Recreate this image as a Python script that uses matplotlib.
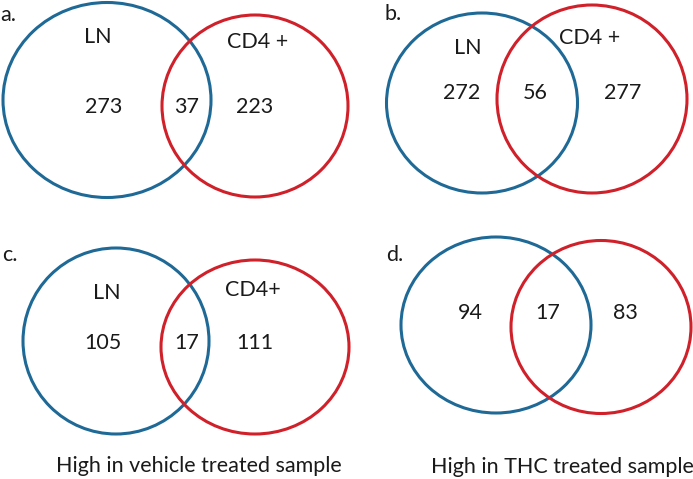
import matplotlib
matplotlib.use("Agg")
import matplotlib.pyplot as plt
from matplotlib.patches import Ellipse

plt.rcParams['font.family'] = ['Lato', 'DejaVu Sans']

# counts per panel: left only, overlap, right only
panel_tags = ["a.", "b.", "c.", "d."]
left_only = [273, 272, 105, 94]
overlap = [37, 56, 17, 17]
right_only = [223, 277, 111, 83]
left_names = ["LN", "LN", "LN", ""]
right_names = ["CD4 +", "CD4 +", "CD4+", ""]
captions = ["High in vehicle treated sample", "High in THC treated sample"]

blue = "#1f6996"
red = "#d0202a"

# layout of each panel in pixel coords (x, y from top)
# blue ellipse (cx, cy, w, h), red ellipse (cx, cy, w, h)
blue_ell = [(107, 100, 208, 195), (482, 103, 191, 180),
            (116, 341, 186, 186), (496, 325, 190, 176)]
red_ell = [(255, 106, 186, 182), (592, 99, 190, 188),
           (255, 347, 188, 174), (601, 327, 180, 173)]
tag_pos = [(0, 15), (385, 14), (2, 255), (386, 255)]
left_name_pos = [(98, 37), (468, 48), (107, 293), (0, 0)]
right_name_pos = [(258, 42), (590, 38), (253, 290), (0, 0)]
num_y = [107, 93, 343, 313]
num_x = [(104, 187, 255), (462, 535, 623), (103, 187, 255), (470, 548, 625)]
caption_pos = [(199, 466), (562, 467)]

fig = plt.figure(figsize=(6.93, 4.79), dpi=100)
ax = fig.add_axes([0, 0, 1, 1])
ax.set_xlim(0, 693)
ax.set_ylim(479, 0)
ax.axis("off")

fs = 15.5
txt = "#1a1a1a"
for i in range(4):
    bx, by, bw, bh = blue_ell[i]
    rx, ry, rw, rh = red_ell[i]
    ax.add_patch(Ellipse((bx, by), bw, bh, fill=False, ec=blue, lw=2.2))
    ax.add_patch(Ellipse((rx, ry), rw, rh, fill=False, ec=red, lw=2.2))
    ax.text(tag_pos[i][0], tag_pos[i][1], panel_tags[i], fontsize=fs,
            ha="left", va="center", color=txt)
    if left_names[i]:
        ax.text(*left_name_pos[i], left_names[i], fontsize=fs,
                ha="center", va="center", color=txt)
    if right_names[i]:
        ax.text(*right_name_pos[i], right_names[i], fontsize=fs,
                ha="center", va="center", color=txt)
    vals = [left_only[i], overlap[i], right_only[i]]
    for x, v in zip(num_x[i], vals):
        ax.text(x, num_y[i], str(v), fontsize=fs, ha="center", va="center",
                color=txt)

for (x, y), c in zip(caption_pos, captions):
    ax.text(x, y, c, fontsize=fs, ha="center", va="center", color=txt)

fig.savefig("out.png", dpi=100)
